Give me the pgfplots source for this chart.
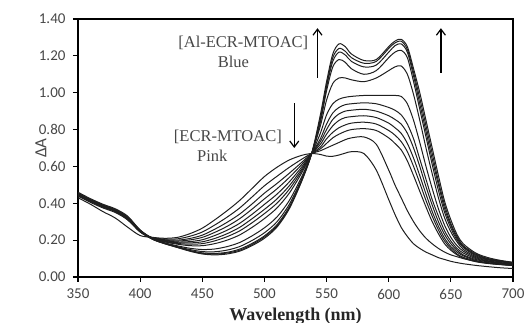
\documentclass[border=0pt]{standalone}
\usepackage{fontspec}
\setmainfont{Carlito}
\newfontfamily\tnr{Liberation Serif}
\usepackage{pgfplots}
\pgfplotsset{compat=1.18}
\usepackage{pgfplotstable}
\usetikzlibrary{arrows.meta}

\pgfplotstableread{
x c0 c1 c2 c3 c4 c5 c6 c7 c8 c9 c10 c11 c12
350 0.43 0.44 0.45 0.455 0.44 0.445 0.45 0.46 0.445 0.44 0.45 0.455 0.445
360 0.395 0.41 0.415 0.42 0.41 0.415 0.42 0.425 0.41 0.405 0.415 0.42 0.41
370 0.355 0.38 0.385 0.39 0.385 0.38 0.39 0.395 0.38 0.375 0.385 0.39 0.385
380 0.32 0.355 0.36 0.365 0.36 0.355 0.365 0.37 0.36 0.35 0.36 0.365 0.36
390 0.27 0.315 0.32 0.325 0.32 0.31 0.32 0.33 0.32 0.31 0.32 0.325 0.315
400 0.225 0.245 0.25 0.255 0.25 0.245 0.25 0.255 0.25 0.245 0.25 0.25 0.245
410 0.215 0.214 0.212 0.211 0.21 0.21 0.209 0.208 0.207 0.206 0.205 0.205 0.205
420 0.21 0.206 0.202 0.199 0.197 0.194 0.192 0.19 0.185 0.183 0.181 0.181 0.18
430 0.215 0.207 0.2 0.195 0.19 0.186 0.182 0.178 0.169 0.165 0.162 0.161 0.16
440 0.235 0.221 0.209 0.201 0.192 0.185 0.178 0.17 0.156 0.149 0.144 0.142 0.14
450 0.265 0.244 0.227 0.215 0.202 0.191 0.181 0.17 0.149 0.138 0.131 0.128 0.125
460 0.31 0.282 0.259 0.242 0.225 0.209 0.196 0.181 0.152 0.137 0.128 0.124 0.12
470 0.36 0.325 0.297 0.275 0.254 0.235 0.219 0.2 0.165 0.146 0.134 0.13 0.125
480 0.415 0.374 0.341 0.316 0.291 0.269 0.25 0.228 0.187 0.165 0.151 0.145 0.14
490 0.48 0.434 0.396 0.368 0.34 0.316 0.294 0.269 0.223 0.198 0.182 0.176 0.17
500 0.545 0.495 0.455 0.424 0.394 0.367 0.344 0.317 0.267 0.24 0.223 0.217 0.21
510 0.595 0.546 0.507 0.478 0.449 0.423 0.4 0.374 0.325 0.299 0.283 0.276 0.27
520 0.635 0.595 0.563 0.54 0.516 0.495 0.476 0.455 0.415 0.394 0.381 0.375 0.37
530 0.66 0.639 0.622 0.61 0.597 0.586 0.576 0.565 0.544 0.533 0.526 0.523 0.52
538 0.67 0.67 0.67 0.67 0.67 0.67 0.67 0.67 0.67 0.67 0.67 0.67 0.67
545 0.665 0.685 0.695 0.705 0.72 0.735 0.75 0.78 0.82 0.84 0.85 0.86 0.88
550 0.656 0.70 0.725 0.75 0.775 0.80 0.83 0.88 0.96 1.01 1.03 1.04 1.06
555 0.655 0.715 0.755 0.785 0.82 0.855 0.89 0.94 1.05 1.14 1.17 1.19 1.21
560 0.662 0.73 0.775 0.81 0.85 0.885 0.92 0.965 1.08 1.18 1.22 1.24 1.265
565 0.672 0.745 0.79 0.825 0.865 0.90 0.935 0.975 1.08 1.165 1.205 1.225 1.25
570 0.68 0.755 0.80 0.835 0.87 0.905 0.94 0.98 1.07 1.13 1.17 1.19 1.21
580 0.67 0.76 0.805 0.84 0.875 0.91 0.945 0.985 1.06 1.10 1.14 1.16 1.175
590 0.58 0.72 0.795 0.83 0.865 0.90 0.94 0.985 1.08 1.12 1.15 1.17 1.18
600 0.42 0.58 0.755 0.795 0.835 0.875 0.92 0.985 1.12 1.19 1.22 1.24 1.25
605 0.34 0.50 0.725 0.77 0.81 0.855 0.905 0.985 1.14 1.22 1.255 1.27 1.28
610 0.27 0.43 0.69 0.735 0.78 0.83 0.88 0.98 1.145 1.23 1.265 1.28 1.29
615 0.22 0.36 0.63 0.68 0.725 0.78 0.83 0.94 1.10 1.19 1.22 1.235 1.25
620 0.18 0.30 0.55 0.60 0.645 0.70 0.75 0.85 0.99 1.06 1.09 1.11 1.13
625 0.155 0.25 0.465 0.51 0.55 0.60 0.64 0.73 0.85 0.91 0.94 0.97 1.00
630 0.135 0.21 0.38 0.415 0.45 0.49 0.53 0.60 0.70 0.76 0.79 0.82 0.85
635 0.12 0.18 0.30 0.33 0.355 0.39 0.42 0.48 0.56 0.61 0.64 0.67 0.70
640 0.105 0.155 0.235 0.255 0.275 0.30 0.33 0.37 0.43 0.47 0.50 0.52 0.55
645 0.095 0.135 0.18 0.195 0.21 0.23 0.25 0.28 0.32 0.35 0.37 0.39 0.41
650 0.085 0.12 0.145 0.155 0.165 0.18 0.195 0.215 0.245 0.265 0.28 0.29 0.31
655 0.078 0.11 0.12 0.125 0.135 0.145 0.155 0.17 0.19 0.20 0.21 0.22 0.23
660 0.072 0.10 0.102 0.107 0.115 0.12 0.13 0.14 0.15 0.16 0.165 0.17 0.18
670 0.063 0.085 0.083 0.087 0.09 0.095 0.10 0.105 0.11 0.115 0.12 0.125 0.13
680 0.056 0.075 0.073 0.076 0.078 0.082 0.085 0.088 0.092 0.095 0.098 0.10 0.105
690 0.05 0.068 0.067 0.069 0.071 0.074 0.076 0.078 0.082 0.084 0.086 0.088 0.09
700 0.046 0.062 0.062 0.064 0.066 0.068 0.07 0.072 0.074 0.076 0.077 0.078 0.08
}\spectra

\begin{document}
\begin{tikzpicture}
\begin{axis}[
  at={(0pt,0pt)}, anchor=south west,
  scale only axis,
  width=435pt, height=258pt,
  xmin=350, xmax=700, ymin=0, ymax=1.4,
  xtick={350,400,...,700},
  ytick={0,0.2,...,1.4},
  tick align=outside, tick pos=left,
  major tick length=5pt,
  tick style={line width=1.1pt, black},
  axis line style={line width=1.5pt},
  /pgf/number format/assume math mode=true,
  ticklabel style={font=\fontsize{15}{17}\selectfont, text=black!72},
  y tick label style={xshift=-4pt, /pgf/number format/.cd, fixed, fixed zerofill, precision=2},
  x tick label style={yshift=-6pt, inner sep=1pt, /pgf/number format/.cd, fixed, precision=0, 1000 sep={}},
  xlabel={\tnr\bfseries Wavelength (nm)},
  xlabel style={font=\fontsize{18}{20}\selectfont, text=black!85, inner sep=0pt, at={(axis description cs:0.5,-0.152)}, anchor=center},
  ylabel={ΔA},
  ylabel style={font=\fontsize{17}{19}\selectfont, text=black!72, at={(axis description cs:-0.085,0.5)}, anchor=center},
  clip=true,
]
\pgfplotsinvokeforeach{0,...,12}{
  \addplot[black!88, line width=1pt, smooth, tension=0.5] table[x=x, y=c#1] {\spectra};
}
\node[font=\tnr\fontsize{16.5}{18}\selectfont, text=black!72] at (axis cs:483,1.27) {[Al-ECR-MTOAC]};
\node[font=\tnr\fontsize{16.5}{18}\selectfont, text=black!72] at (axis cs:475,1.167) {Blue};
\node[font=\tnr\fontsize{16.5}{18}\selectfont, text=black!72] at (axis cs:470.6,0.76) {[ECR-MTOAC]};
\node[font=\tnr\fontsize{16.5}{18}\selectfont, text=black!72] at (axis cs:458,0.66) {Pink};
\draw[line width=1.2pt, -{Straight Barb[length=6pt,width=9pt]}] (axis cs:542.7,1.08) -- (axis cs:542.7,1.35);
\draw[line width=1.2pt, -{Straight Barb[length=6pt,width=9pt]}] (axis cs:524,0.944) -- (axis cs:524,0.70);
\draw[line width=1.2pt, -{Straight Barb[length=6pt,width=9pt]}] (axis cs:642,1.107) -- (axis cs:642,1.35);
\end{axis}
\pgfresetboundingbox
\useasboundingbox (-78pt,-46pt) rectangle (447pt,277pt);
\end{tikzpicture}
\end{document}
